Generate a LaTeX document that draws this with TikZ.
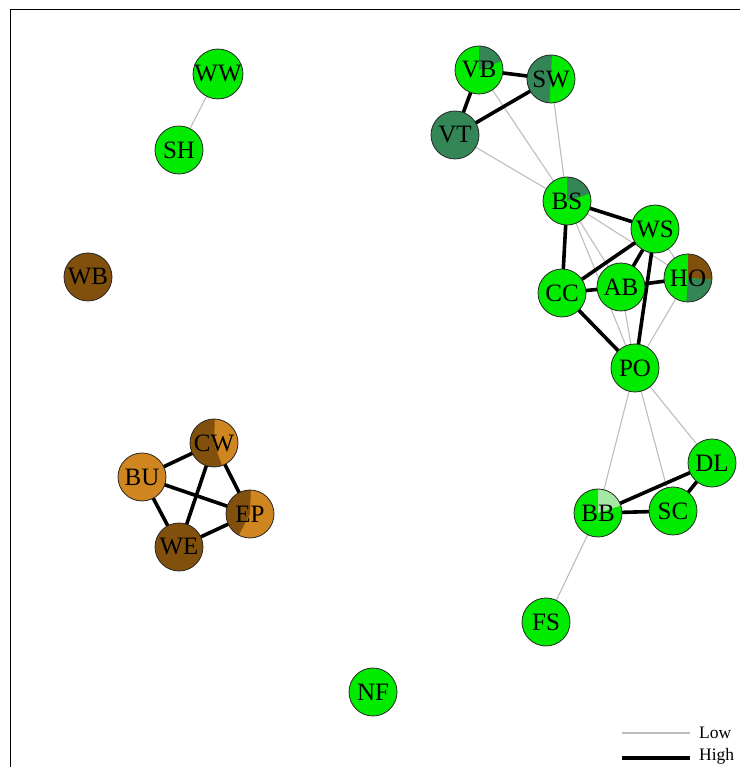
\documentclass[tikz,border=0pt]{standalone}
\usepackage{fontspec}
\setmainfont{Liberation Serif}
\definecolor{gr}{RGB}{0,235,0}
\definecolor{dg}{RGB}{52,134,86}
\definecolor{br}{RGB}{128,80,12}
\definecolor{orng}{RGB}{208,134,32}
\definecolor{lg}{RGB}{165,232,165}
\definecolor{lowedge}{RGB}{190,190,190}
\newcommand{\pieslice}[3]{%
  \fill[#1] (path picture bounding box.center) -- ++(#2:26pt)
    arc[start angle=#2, end angle=#3, radius=26pt] -- cycle;}
\tikzset{
  vtx/.style={circle, draw=black!85, line width=0.8pt, minimum size=48pt,
    inner sep=0pt, font=\fontsize{25}{25}\selectfont},
  lowlink/.style={draw=lowedge, line width=1.1pt},
  highlink/.style={draw=black, line width=3.6pt},
  legendtext/.style={anchor=west, inner sep=0pt, font=\fontsize{17.5}{17.5}\selectfont},
}
\begin{document}
\begin{tikzpicture}[x=1pt,y=1pt]
\useasboundingbox (0,0) rectangle (740,767);
\fill[white] (0,0) rectangle (740,767);
% frame (top and left sides)
\draw[line width=1.3pt] (10.5,0) -- (10.5,757.5) -- (740,757.5);

% vertex positions
\coordinate (pWW) at (218,693);
\coordinate (pSH) at (179,617);
\coordinate (pWB) at (88,490);
\coordinate (pVB) at (479,697);
\coordinate (pSW) at (551,688);
\coordinate (pVT) at (455,632);
\coordinate (pBS) at (567,566);
\coordinate (pWS) at (655,538);
\coordinate (pCC) at (562,474);
\coordinate (pAB) at (621,480);
\coordinate (pHO) at (688,489);
\coordinate (pPO) at (635,399);
\coordinate (pDL) at (712,304);
\coordinate (pSC) at (673,256);
\coordinate (pBB) at (598,254);
\coordinate (pFS) at (546,145);
\coordinate (pNF) at (373,75);
\coordinate (pCW) at (214,324);
\coordinate (pBU) at (142,290);
\coordinate (pEP) at (250,253);
\coordinate (pWE) at (179,220);

% weak links
\foreach \a/\b in {WW/SH, VB/BS, SW/BS, VT/BS, BS/AB, BS/PO, BS/HO, WS/HO,
                   CC/HO, AB/PO, HO/PO, PO/BB, PO/SC, PO/DL, BB/FS}
  \draw[lowlink] (p\a) -- (p\b);
% strong links
\foreach \a/\b in {VB/SW, VB/VT, VT/SW, BS/WS, BS/CC, WS/CC, WS/AB, WS/PO,
                   CC/AB, CC/PO, AB/HO, BB/SC, BB/DL, SC/DL,
                   BU/CW, BU/EP, BU/WE, CW/WE, CW/EP, WE/EP}
  \draw[highlink] (p\a) -- (p\b);

% vertices
\node[vtx, fill=gr] (WW) at (pWW) {WW};
\node[vtx, fill=gr] (SH) at (pSH) {SH};
\node[vtx, fill=br] (WB) at (pWB) {WB};
\node[vtx, fill=gr, path picture={\pieslice{dg}{90}{22}}] (VB) at (pVB) {VB};
\node[vtx, fill=gr, path picture={\pieslice{dg}{88}{266}}] (SW) at (pSW) {SW};
\node[vtx, fill=dg] (VT) at (pVT) {VT};
\node[vtx, fill=gr, path picture={\pieslice{dg}{90}{18}}] (BS) at (pBS) {BS};
\node[vtx, fill=gr] (WS) at (pWS) {WS};
\node[vtx, fill=gr] (CC) at (pCC) {CC};
\node[vtx, fill=gr] (AB) at (pAB) {AB};
\node[vtx, fill=gr, path picture={\pieslice{br}{90}{-4}\pieslice{dg}{-4}{-94}}] (HO) at (pHO) {HO};
\node[vtx, fill=gr] (PO) at (pPO) {PO};
\node[vtx, fill=gr] (DL) at (pDL) {DL};
\node[vtx, fill=gr] (SC) at (pSC) {SC};
\node[vtx, fill=gr, path picture={\pieslice{lg}{90}{18}}] (BB) at (pBB) {BB};
\node[vtx, fill=gr] (FS) at (pFS) {FS};
\node[vtx, fill=gr] (NF) at (pNF) {NF};
\node[vtx, fill=br, path picture={\pieslice{orng}{88}{-70}}] (CW) at (pCW) {CW};
\node[vtx, fill=orng] (BU) at (pBU) {BU};
\node[vtx, fill=orng, path picture={\pieslice{br}{88}{242}}] (EP) at (pEP) {EP};
\node[vtx, fill=br] (WE) at (pWE) {WE};

% legend
\coordinate (lowA) at (622,34);
\coordinate (lowB) at (690,34);
\coordinate (highA) at (622,9);
\coordinate (highB) at (690,9);
\draw[lowlink] (lowA) -- (lowB);
\draw[highlink] (highA) -- (highB);
\node[legendtext] (lowtxt) at (699,34) {Low};
\node[legendtext] (hightxt) at (699,11) {High};
\end{tikzpicture}
\end{document}
